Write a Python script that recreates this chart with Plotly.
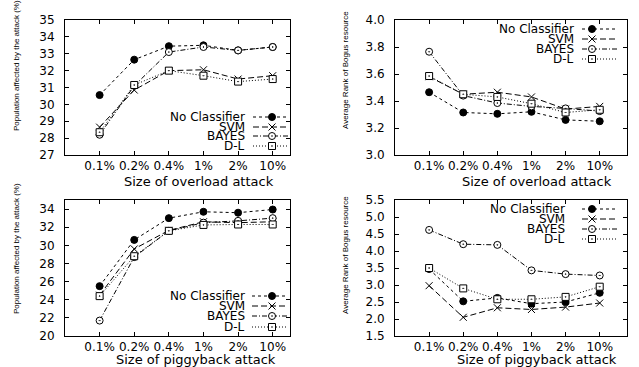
import plotly.graph_objects as go

categories = ["0.1%", "0.2%", "0.4%", "1%", "2%", "10%"]
series_names = ["No Classifier", "SVM", "BAYES", "D-L"]

# Panel 1: overload attack, population affected (%)
ovl_pop_noclass = [30.55, 32.65, 33.45, 33.5, 33.2, 33.4]
ovl_pop_svm = [28.65, 30.85, 32.0, 32.05, 31.5, 31.7]
ovl_pop_bayes = [28.2, 31.1, 33.1, 33.4, 33.2, 33.4]
ovl_pop_dl = [28.35, 31.15, 32.0, 31.7, 31.35, 31.5]

# Panel 2: overload attack, average rank of bogus resource
ovl_rank_noclass = [3.465, 3.315, 3.305, 3.32, 3.26, 3.25]
ovl_rank_svm = [3.58, 3.45, 3.465, 3.43, 3.34, 3.36]
ovl_rank_bayes = [3.765, 3.44, 3.385, 3.36, 3.345, 3.325]
ovl_rank_dl = [3.585, 3.45, 3.43, 3.38, 3.315, 3.335]

# Panel 3: piggyback attack, population affected (%)
pig_pop_noclass = [25.5, 30.6, 33.0, 33.7, 33.6, 33.95]
pig_pop_svm = [24.5, 29.6, 31.65, 32.6, 32.5, 32.6]
pig_pop_bayes = [21.7, 28.7, 31.6, 32.5, 32.7, 33.0]
pig_pop_dl = [24.4, 28.8, 31.6, 32.25, 32.3, 32.3]

# Panel 4: piggyback attack, average rank of bogus resource
pig_rank_noclass = [3.47, 2.52, 2.62, 2.45, 2.5, 2.77]
pig_rank_svm = [2.98, 2.05, 2.33, 2.28, 2.35, 2.47]
pig_rank_bayes = [4.62, 4.2, 4.18, 3.43, 3.32, 3.28]
pig_rank_dl = [3.5, 2.9, 2.58, 2.58, 2.65, 2.95]

W, H = 639, 367

styles = {
    "No Classifier": dict(dash="3px,3px", symbol="circle", fill="black"),
    "SVM": dict(dash="6px,3px", symbol="x-thin-open", fill="black"),
    "BAYES": dict(dash="5px,2px,1px,2px", symbol="circle-dot", fill="white"),
    "D-L": dict(dash="1px,2px", symbol="square-dot", fill="white"),
}

panels = [
    dict(data=[ovl_pop_noclass, ovl_pop_svm, ovl_pop_bayes, ovl_pop_dl],
         xpx=(65, 290), ypx=(20, 155), xr=[-1, 5.5], yr=[27, 35],
         tickvals=[27, 28, 29, 30, 31, 32, 33, 34, 35], fmt="d",
         ytitle="Population affected by the attack (%)", ytx=16, yty=66,
         xtitle="Size of overload attack", xtx=199, xty=181,
         leg_text_x=247, leg_x0=253, leg_xm=272, leg_x1=288,
         leg_y=[117, 127, 136, 146]),
    dict(data=[ovl_rank_noclass, ovl_rank_svm, ovl_rank_bayes, ovl_rank_dl],
         xpx=(395, 627), ypx=(20, 155), xr=[-1, 5.8], yr=[3.0, 4.0],
         tickvals=[3.0, 3.2, 3.4, 3.6, 3.8, 4.0], fmt=".1f",
         ytitle="Average Rank of Bogus resource", ytx=345, yty=70,
         xtitle="Size of overload attack", xtx=537, xty=181,
         leg_text_x=576, leg_x0=582, leg_xm=592, leg_x1=617,
         leg_y=[29, 39, 49, 59]),
    dict(data=[pig_pop_noclass, pig_pop_svm, pig_pop_bayes, pig_pop_dl],
         xpx=(65, 290), ypx=(200, 336), xr=[-1, 5.5], yr=[20, 35],
         tickvals=[20, 22, 24, 26, 28, 30, 32, 34], fmt="d",
         ytitle="Population affected by the attack (%)", ytx=16, yty=249,
         xtitle="Size of piggyback attack", xtx=196, xty=359,
         leg_text_x=247, leg_x0=252, leg_xm=272, leg_x1=288,
         leg_y=[296, 306, 316, 327]),
    dict(data=[pig_rank_noclass, pig_rank_svm, pig_rank_bayes, pig_rank_dl],
         xpx=(395, 627), ypx=(200, 336), xr=[-1, 5.8], yr=[1.5, 5.5],
         tickvals=[1.5, 2.0, 2.5, 3.0, 3.5, 4.0, 4.5, 5.0, 5.5], fmt=".1f",
         ytitle="Average Rank of Bogus resource", ytx=345, yty=255,
         xtitle="Size of piggyback attack", xtx=537, xty=359,
         leg_text_x=567, leg_x0=582, leg_xm=592, leg_x1=618,
         leg_y=[209, 219, 229, 239]),
]

TICKFONT = dict(family="DejaVu Sans", size=12, color="black")
fig = go.Figure()
annotations = []
layout = {}

for i, p in enumerate(panels, start=1):
    xa = "x" if i == 1 else f"x{i}"
    ya = "y" if i == 1 else f"y{i}"
    for name, vals in zip(series_names, p["data"]):
        s = styles[name]
        fig.add_trace(go.Scatter(
            x=categories, y=vals, xaxis=xa, yaxis=ya, mode="lines+markers",
            name=name, showlegend=False,
            line=dict(color="black", width=1, dash=s["dash"]),
            marker=dict(symbol=s["symbol"], size=7, color=s["fill"],
                        line=dict(color="black", width=1)),
        ))
    x0, x1 = p["xpx"]
    y0, y1 = p["ypx"]
    layout[f"xaxis{'' if i == 1 else i}"] = dict(
        domain=[x0 / W, x1 / W], anchor=ya, type="category",
        categoryorder="array", categoryarray=categories, range=p["xr"],
        showline=True, linecolor="black", linewidth=1, mirror="allticks",
        ticks="inside", ticklen=4, tickcolor="black", showgrid=False,
        zeroline=False, tickfont=TICKFONT, ticklabelstandoff=0,
        automargin=False,
    )
    layout[f"yaxis{'' if i == 1 else i}"] = dict(
        domain=[1 - y1 / H, 1 - y0 / H], anchor=xa, range=p["yr"],
        tickvals=p["tickvals"], tickformat=p["fmt"],
        showline=True, linecolor="black", linewidth=1, mirror="allticks",
        ticks="inside", ticklen=4, tickcolor="black", showgrid=False,
        zeroline=False, tickfont=TICKFONT, ticklabelstandoff=7,
        automargin=False,
    )
    annotations.append(dict(
        text=p["ytitle"], textangle=-90, xref="paper", yref="paper",
        x=p["ytx"] / W, y=1 - p["yty"] / H, showarrow=False,
        xanchor="center", yanchor="middle",
        font=dict(family="Liberation Sans", size=8, color="black"),
    ))
    annotations.append(dict(
        text=p["xtitle"], xref="paper", yref="paper",
        x=p["xtx"] / W, y=1 - p["xty"] / H, showarrow=False,
        xanchor="center", yanchor="middle",
        font=dict(family="DejaVu Sans", size=13, color="black"),
    ))
    # legend (gnuplot style: text right-aligned, then sample)
    for name, ly in zip(series_names, p["leg_y"]):
        s = styles[name]
        fig.add_trace(go.Scatter(
            x=[p["leg_x0"], p["leg_x1"]], y=[ly, ly], xaxis="x5", yaxis="y5",
            mode="lines", showlegend=False, hoverinfo="skip",
            line=dict(color="black", width=1, dash=s["dash"]),
        ))
        fig.add_trace(go.Scatter(
            x=[p["leg_xm"]], y=[ly], xaxis="x5", yaxis="y5",
            mode="markers", showlegend=False, hoverinfo="skip",
            marker=dict(symbol=s["symbol"], size=7, color=s["fill"],
                        line=dict(color="black", width=1)),
        ))
        annotations.append(dict(
            text=name, xref="paper", yref="paper",
            x=p["leg_text_x"] / W, y=1 - ly / H, showarrow=False,
            xanchor="right", yanchor="middle",
            font=dict(family="DejaVu Sans", size=12, color="black"),
        ))

layout["xaxis5"] = dict(domain=[0, 1], range=[0, W], visible=False,
                        anchor="y5", automargin=False)
layout["yaxis5"] = dict(domain=[0, 1], range=[H, 0], visible=False,
                        anchor="x5", automargin=False)

fig.update_layout(
    width=W, height=H, margin=dict(l=0, r=0, t=0, b=0, autoexpand=False),
    paper_bgcolor="white", plot_bgcolor="rgba(0,0,0,0)",
    showlegend=False, annotations=annotations, **layout,
)

fig.write_html(
    "out.html",
    config={"displayModeBar": False},
    post_script="document.body.style.margin='0';document.body.style.overflow='hidden';",
)
